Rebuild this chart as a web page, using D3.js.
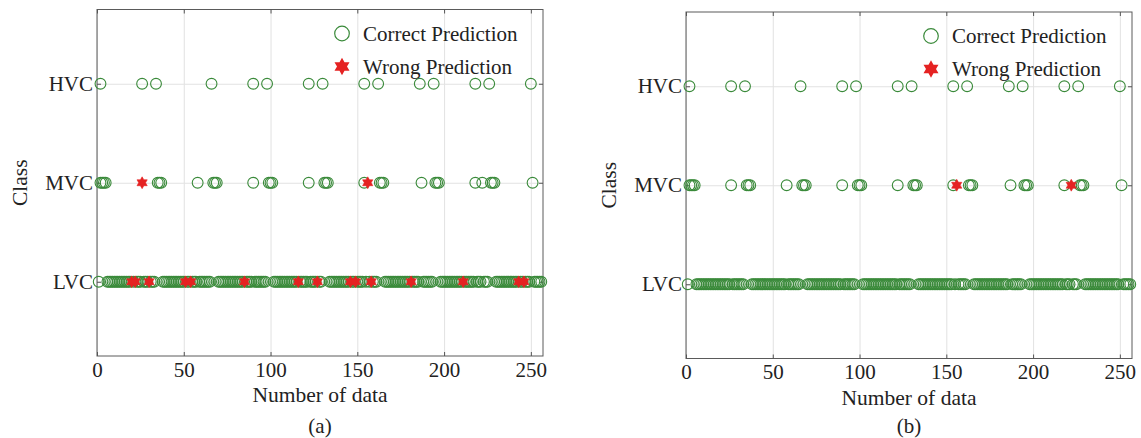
<!DOCTYPE html>
<html>
<head>
<meta charset="utf-8">
<script src="https://cdn.jsdelivr.net/npm/d3@7"></script>
<style>
	body { margin: 0; background: #fff; }
	svg text { font-family: "Liberation Serif", "Times New Roman", serif; fill: #222; }
</style>
</head>
<body>
<div id="chart-area"></div>
<script>
// values
const X_TICKS = [0, 50, 100, 150, 200, 250]
const CLASS_LABELS = ["LVC", "MVC", "HVC"]   // class 1, 2, 3

const HVC_CORRECT = [2, 26, 34, 66, 90, 98, 122, 130, 154, 162, 186, 194, 218, 226, 250]

const MVC_CORRECT_A = [2, 3, 4, 5, 35, 36, 37, 58, 67, 68, 69, 90, 99, 100, 101, 122, 131, 132, 133,
	154, 163, 164, 165, 187, 195, 196, 197, 218, 222, 227, 228, 229, 251]
const MVC_WRONG_A = [26, 156]

const MVC_CORRECT_B = [2, 3, 4, 5, 26, 35, 36, 37, 58, 67, 68, 69, 90, 99, 100, 101, 122, 131, 132, 133,
	154, 163, 164, 165, 187, 195, 196, 197, 218, 227, 228, 229, 251]
const MVC_WRONG_B = [156, 222]

// LVC samples come in runs of consecutive indices [first, last]
const LVC_RUNS = [[1, 1], [6, 25], [27, 33], [38, 57], [59, 65], [70, 89], [91, 97], [102, 121],
	[123, 129], [134, 153], [155, 155], [157, 161], [166, 185], [188, 193], [198, 217],
	[219, 221], [223, 225], [230, 249], [252, 256]]
const LVC_WRONG_A = [20, 22, 30, 51, 54, 85, 116, 127, 146, 149, 158, 181, 211, 243, 246]
const LVC_WRONG_B = []

const BOX = { WIDTH: 446, HEIGHT: 346.5 }
const GREEN = "#3a8a3a"
const RED = "#e52222"
const FONT = "Liberation Serif, Times New Roman, serif"

const PANELS = [
	{ left: 97, top: 9.5, caption: "(a)", mvc: MVC_CORRECT_A, mvcWrong: MVC_WRONG_A, lvcWrong: LVC_WRONG_A },
	{ left: 686, top: 12, caption: "(b)", mvc: MVC_CORRECT_B, mvcWrong: MVC_WRONG_B, lvcWrong: LVC_WRONG_B }
]

// six pointed star (matlab 'hexagram' marker)
const hexagram = {
	draw(context, size) {
		const r = Math.sqrt(size) / 2
		const ri = r / Math.sqrt(3)
		for (let i = 0; i < 12; i++) {
			const a = -Math.PI / 2 + i * Math.PI / 6
			const rr = i % 2 ? ri : r
			if (i === 0) context.moveTo(rr * Math.cos(a), rr * Math.sin(a))
			else context.lineTo(rr * Math.cos(a), rr * Math.sin(a))
		}
		context.closePath()
	}
}

const svg = d3.select("#chart-area")
	.append("svg")
	.attr("width", 1141)
	.attr("height", 438)
	.attr("font-family", FONT)

PANELS.forEach(p => {
	const g = svg.append("g")
		.attr("transform", `translate(${p.left}, ${p.top})`)

	const x = d3.scaleLinear().domain([0, 257]).range([0, BOX.WIDTH])
	const y = d3.scaleLinear().domain([0.25, 3.75]).range([BOX.HEIGHT, 0])

	// grid
	const gridX = g.append("g")
		.call(d3.axisBottom(x).tickValues(X_TICKS).tickSize(BOX.HEIGHT).tickFormat(""))
	const gridY = g.append("g")
		.call(d3.axisRight(y).tickValues([1, 2, 3]).tickSize(BOX.WIDTH).tickFormat(""))
	;[gridX, gridY].forEach(gr => {
		gr.select(".domain").remove()
		gr.selectAll("line").attr("stroke", "#e2e2e2")
	})

	g.append("rect")
		.attr("width", BOX.WIDTH)
		.attr("height", BOX.HEIGHT)
		.attr("fill", "none")
		.attr("stroke", "#5a5a5a")

	const xAxisGroup = g.append("g")
		.attr("transform", `translate(0, ${BOX.HEIGHT})`)
		.call(d3.axisBottom(x).tickValues(X_TICKS).tickSizeInner(-4).tickSizeOuter(0).tickPadding(6))
	const xTopGroup = g.append("g")
		.call(d3.axisTop(x).tickValues(X_TICKS).tickSizeInner(-4).tickSizeOuter(0).tickFormat(""))
	const yAxisGroup = g.append("g")
		.call(d3.axisLeft(y).tickValues([1, 2, 3]).tickFormat(d => CLASS_LABELS[d - 1])
			.tickSizeInner(-4).tickSizeOuter(0).tickPadding(4))
	const yRightGroup = g.append("g")
		.attr("transform", `translate(${BOX.WIDTH}, 0)`)
		.call(d3.axisRight(y).tickValues([1, 2, 3]).tickSizeInner(-4).tickSizeOuter(0).tickFormat(""))

	;[xAxisGroup, xTopGroup, yAxisGroup, yRightGroup].forEach(ax => {
		ax.attr("font-size", 21).attr("font-family", FONT).attr("color", "#555")
		ax.select(".domain").remove()
	})

	// axis titles
	g.append("text")
		.attr("x", BOX.WIDTH / 2)
		.attr("y", BOX.HEIGHT + 46)
		.attr("text-anchor", "middle")
		.attr("font-size", 21.5)
		.text("Number of data")

	g.append("text")
		.attr("transform", "rotate(-90)")
		.attr("x", -BOX.HEIGHT / 2)
		.attr("y", -70)
		.attr("text-anchor", "middle")
		.attr("font-size", 21.5)
		.text("Class")

	svg.append("text")
		.attr("x", p.left + BOX.WIDTH / 2)
		.attr("y", 433)
		.attr("text-anchor", "middle")
		.attr("font-size", 21)
		.text(p.caption)

	// points
	const lvcAll = LVC_RUNS.flatMap(r => d3.range(r[0], r[1] + 1))
	const lvcCorrect = lvcAll.filter(i => !p.lvcWrong.includes(i))

	const correct = [
		...lvcCorrect.map(i => ({ idx: i, cls: 1 })),
		...p.mvc.map(i => ({ idx: i, cls: 2 })),
		...HVC_CORRECT.map(i => ({ idx: i, cls: 3 }))
	]
	const wrong = [
		...p.lvcWrong.map(i => ({ idx: i, cls: 1 })),
		...p.mvcWrong.map(i => ({ idx: i, cls: 2 }))
	]

	g.selectAll("circle.ok")
		.data(correct)
		.enter()
		.append("circle")
		.attr("class", "ok")
		.attr("cx", d => x(d.idx))
		.attr("cy", d => y(d.cls))
		.attr("r", 5.4)
		.attr("fill", "none")
		.attr("stroke", GREEN)
		.attr("stroke-width", 1.1)

	g.selectAll("path.bad")
		.data(wrong)
		.enter()
		.append("path")
		.attr("class", "bad")
		.attr("transform", d => `translate(${x(d.idx)}, ${y(d.cls)})`)
		.attr("d", d3.symbol(hexagram, 140)())
		.attr("fill", RED)
		.attr("stroke", RED)
		.attr("stroke-width", 0.6)

	// legend
	const legend = g.append("g").attr("transform", "translate(245, 24)")
	legend.append("circle")
		.attr("r", 7.3)
		.attr("fill", "none")
		.attr("stroke", GREEN)
		.attr("stroke-width", 1.2)
	legend.append("text")
		.attr("x", 21)
		.attr("y", 7)
		.attr("font-size", 21)
		.text("Correct Prediction")
	legend.append("path")
		.attr("transform", "translate(0, 33)")
		.attr("d", d3.symbol(hexagram, 300)())
		.attr("fill", RED)
	legend.append("text")
		.attr("x", 21)
		.attr("y", 40)
		.attr("font-size", 21)
		.text("Wrong Prediction")
})
</script>
</body>
</html>
